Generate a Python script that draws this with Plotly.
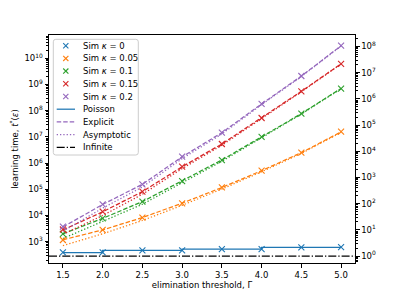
import plotly.graph_objects as go
import math

# ---------------- data ----------------
gamma = [1.5, 2.0, 2.5, 3.0, 3.5, 4.0, 4.5, 5.0]
kappas = ["0", "0.05", "0.1", "0.15", "0.2"]

sim_k0 = [390, 390, 470, 465, 525, 525, 610, 615]
sim_k005 = [1.16e3, 2.80e3, 8.24e3, 2.92e4, 1.19e5, 5.13e5, 2.49e6, 1.58e7]
sim_k01 = [2.0e3, 7.8e3, 3.37e4, 2.07e5, 1.31e6, 1.01e7, 7.7e7, 7.0e8]
sim_k015 = [2.92e3, 1.40e4, 8.1e4, 7.3e5, 5.36e6, 5.26e7, 5.5e8, 6.17e9]
sim_k02 = [3.74e3, 2.67e4, 1.55e5, 1.75e6, 1.45e7, 1.83e8, 2.11e9, 3.03e10]

explicit_k005 = [1.18e3, 2.82e3, 8.32e3, 2.95e4, 1.17e5, 5.13e5, 2.51e6, 1.55e7]
explicit_k01 = [2.0e3, 7.76e3, 3.39e4, 2.09e5, 1.32e6, 1.0e7, 7.76e7, 7.08e8]
explicit_k015 = [2.82e3, 1.38e4, 8.13e4, 7.24e5, 5.37e6, 5.25e7, 5.5e8, 6.17e9]
explicit_k02 = [3.63e3, 2.63e4, 1.55e5, 1.74e6, 1.45e7, 1.82e8, 2.09e9, 3.02e10]

asym_k005 = [7.1e2, 2.0e3, 6.46e3, 2.45e4, 1.02e5, 4.68e5, 2.34e6, 1.48e7]
asym_k01 = [1.32e3, 5.75e3, 2.69e4, 1.78e5, 1.17e6, 9.33e6, 7.41e7, 6.92e8]
asym_k015 = [1.91e3, 1.0e4, 6.46e4, 6.17e5, 4.79e6, 4.9e7, 5.25e8, 6.03e9]
asym_k02 = [2.51e3, 1.91e4, 1.23e5, 1.48e6, 1.29e7, 1.70e8, 2.0e9, 2.95e10]

poisson_gamma = [1.5, 2.0, 3.0, 4.0, 5.0]
poisson_vals = [385, 470, 525, 612, 612]

t_infinite = 284

x_ticks = [1.5, 2.0, 2.5, 3.0, 3.5, 4.0, 4.5, 5.0]
x_tick_labels = ["1.5", "2.0", "2.5", "3.0", "3.5", "4.0", "4.5", "5.0"]
left_decades = [3, 4, 5, 6, 7, 8, 9, 10]
right_decades = [0, 1, 2, 3, 4, 5, 6, 7, 8]

legend_labels = [f"Sim <i>κ</i> = {k}" for k in kappas] + ["Poisson", "Explicit", "Asymptotic", "Infinite"]

# ---------------- styling ----------------
colors = ["#1f77b4", "#ff7f0e", "#2ca02c", "#d62728", "#9467bd"]
FONT = "DejaVu Sans"
FS = 8.5
LW = 1.25
DASH = "4.5px,2px"
DOT = "1.3px,2px"
DASHDOT = "8px,2px,1.3px,2px"
X_RANGE = [1.325, 5.175]
Y_LOG_RANGE = [2.187, 10.889]
shift = math.log10(t_infinite)

# page body adds an 8px offset, so the figure is 8px smaller and shifted
OFF = 8
W, H = 394 - OFF, 296 - OFF
ML, MR, MT, MB = 49 - OFF, 39, 35 - OFF, 33
PW, PH = W - ML - MR, H - MT - MB


def px(x):  # window pixel -> paper
    return (x - OFF - ML) / PW


def py(y):
    return 1 - (y - OFF - MT) / PH


sims = [sim_k0, sim_k005, sim_k01, sim_k015, sim_k02]
explicits = [None, explicit_k005, explicit_k01, explicit_k015, explicit_k02]
asyms = [None, asym_k005, asym_k01, asym_k015, asym_k02]

fig = go.Figure()

for i in range(1, 5):
    fig.add_trace(go.Scatter(
        x=gamma, y=explicits[i], mode="lines",
        line=dict(color=colors[i], width=LW, dash=DASH), name="Explicit"))
    fig.add_trace(go.Scatter(
        x=gamma, y=asyms[i], mode="lines",
        line=dict(color=colors[i], width=LW, dash=DOT), name="Asymptotic"))

fig.add_trace(go.Scatter(
    x=poisson_gamma, y=poisson_vals, mode="lines", line_shape="hv",
    line=dict(color=colors[0], width=LW), name="Poisson"))

fig.add_trace(go.Scatter(
    x=X_RANGE, y=[t_infinite, t_infinite], mode="lines",
    line=dict(color="black", width=LW, dash=DASHDOT), name="Infinite"))

for i in range(5):
    fig.add_trace(go.Scatter(
        x=gamma, y=sims[i], mode="markers",
        marker=dict(symbol="x-thin", size=6, line=dict(color=colors[i], width=1.1), color=colors[i]),
        name=legend_labels[i]))

# dummy trace on right axis (relative learning time)
fig.add_trace(go.Scatter(
    x=X_RANGE, y=[1, 1], mode="lines", yaxis="y2",
    line=dict(color="rgba(0,0,0,0)", width=0), hoverinfo="skip"))

# ---------------- hand-built legend (matplotlib style) ----------------
shapes = []
bx0, bx1, by0, by1, r = 53.3, 138.3, 39.3, 155.0, 2.5
path = (f"M {px(bx0 + r)},{py(by0)} L {px(bx1 - r)},{py(by0)} Q {px(bx1)},{py(by0)} {px(bx1)},{py(by0 + r)} "
        f"L {px(bx1)},{py(by1 - r)} Q {px(bx1)},{py(by1)} {px(bx1 - r)},{py(by1)} "
        f"L {px(bx0 + r)},{py(by1)} Q {px(bx0)},{py(by1)} {px(bx0)},{py(by1 - r)} "
        f"L {px(bx0)},{py(by0 + r)} Q {px(bx0)},{py(by0)} {px(bx0 + r)},{py(by0)} Z")
shapes.append(dict(type="path", xref="paper", yref="paper", path=path,
                   fillcolor="rgba(255,255,255,0.8)", line=dict(color="#cccccc", width=1), layer="above"))

annotations = []
row0, step = 45.7, 12.7
sx0, sx1, sxm, tx = 56.7, 75.0, 65.8, 81.0
ms = 2.6
legend_line_styles = [(colors[0], "solid"), (colors[4], DASH), (colors[4], DOT), ("black", DASHDOT)]
for j, lab in enumerate(legend_labels):
    yc = row0 + step * j
    if j < 5:
        for (a, b) in [(-ms, -ms), (-ms, ms)]:
            shapes.append(dict(type="line", xref="paper", yref="paper",
                               x0=px(sxm + a), y0=py(yc + b), x1=px(sxm - a), y1=py(yc - b),
                               line=dict(color=colors[j], width=1.1), layer="above"))
    else:
        c, d = legend_line_styles[j - 5]
        shapes.append(dict(type="line", xref="paper", yref="paper",
                           x0=px(sx0), y0=py(yc), x1=px(sx1), y1=py(yc),
                           line=dict(color=c, width=LW, dash=d), layer="above"))
    annotations.append(dict(text=lab, xref="paper", yref="paper", x=px(tx), y=py(yc),
                            xanchor="left", yanchor="middle", showarrow=False,
                            font=dict(family=FONT, size=FS, color="black")))

minor_left = [m * 10 ** d for d in range(2, 11) for m in range(2, 10)]
minor_right = [m * 10 ** d for d in range(-1, 9) for m in range(2, 10)]

axis_common = dict(showline=True, linecolor="black", linewidth=1,
                   ticks="outside", ticklen=3.5, tickwidth=0.8, tickcolor="black",
                   showgrid=False, zeroline=False, automargin=False,
                   tickfont=dict(family=FONT, size=FS, color="black"))

fig.update_layout(
    width=W, height=H,
    margin=dict(l=ML, r=MR, t=MT, b=MB),
    paper_bgcolor="white", plot_bgcolor="white",
    font=dict(family=FONT, size=FS, color="black"),
    showlegend=False,
    xaxis=dict(range=X_RANGE, tickvals=x_ticks, ticktext=x_tick_labels,
               mirror=True,
               title=dict(text="elimination threshold, Γ", font=dict(size=FS), standoff=2),
               **axis_common),
    yaxis=dict(type="log", range=Y_LOG_RANGE,
               tickvals=[10 ** d for d in left_decades],
               ticktext=[f"10<sup>{d}</sup>" for d in left_decades],
               minor=dict(tickvals=minor_left, ticks="outside", ticklen=2, tickwidth=0.6, tickcolor="black"),
               title=dict(text="learning time, <i>t</i><sup>*</sup>(<i>ε</i>)", font=dict(size=FS), standoff=4),
               **axis_common),
    yaxis2=dict(type="log", overlaying="y", side="right",
                range=[Y_LOG_RANGE[0] - shift, Y_LOG_RANGE[1] - shift],
                tickvals=[10 ** d for d in right_decades],
                ticktext=[f"10<sup>{d}</sup>" for d in right_decades],
                minor=dict(tickvals=minor_right, ticks="outside", ticklen=2, tickwidth=0.6, tickcolor="black"),
                **axis_common),
    shapes=shapes,
    annotations=annotations,
)

fig.write_html("out.html")
